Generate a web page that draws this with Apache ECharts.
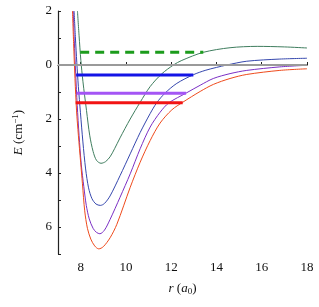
<!DOCTYPE html>
<html>
<head>
<meta charset="utf-8">
<script src="https://cdn.jsdelivr.net/npm/echarts@6/dist/echarts.min.js"></script>
<style>html,body{margin:0;padding:0;background:#fff}#c{width:319px;height:307px}</style>
</head>
<body>
<div id="c"></div>
<script>
// Potential curves: [r (a0), E (cm^-1)]
const curveGreen = [[7.86,2.0],[7.93,1.1],[8.01,0.17],[8.1,-0.6],[8.26,-1.69],[8.4,-2.6],[8.55,-3.2],[8.7,-3.53],[8.9,-3.64],[9.1,-3.58],[9.3,-3.4],[9.5,-3.1],[9.74,-2.7],[10.19,-2.0],[10.63,-1.38],[11.07,-0.8],[11.58,-0.33],[12.1,0.0],[12.47,0.17],[13.42,0.47],[14.6,0.64],[15.8,0.69],[17.0,0.67],[18.0,0.63]];
const curveBlue = [[7.71,2.0],[7.77,1.0],[7.83,0.1],[7.9,-0.8],[7.99,-1.75],[8.1,-2.85],[8.22,-3.85],[8.35,-4.55],[8.5,-4.95],[8.68,-5.15],[8.87,-5.2],[9.05,-5.13],[9.3,-4.85],[9.74,-4.1],[10.19,-3.29],[10.63,-2.5],[11.07,-1.8],[11.36,-1.4],[11.73,-1.04],[12.25,-0.68],[12.98,-0.36],[13.5,-0.2],[14.0,-0.09],[14.46,0.0],[15.34,0.14],[16.8,0.22],[18.0,0.25]];
const curvePurple = [[7.67,2.0],[7.72,0.9],[7.78,-0.3],[7.85,-1.5],[7.93,-2.6],[8.03,-3.7],[8.14,-4.5],[8.25,-5.2],[8.38,-5.7],[8.55,-6.05],[8.7,-6.2],[8.85,-6.25],[9.05,-6.12],[9.3,-5.72],[9.74,-4.9],[10.19,-4.03],[10.63,-3.1],[11.07,-2.3],[11.51,-1.75],[11.9,-1.4],[12.66,-1.04],[13.28,-0.75],[13.86,-0.5],[14.6,-0.32],[15.34,-0.2],[16.8,-0.07],[18.0,-0.01]];
const curveRed = [[7.64,2.0],[7.69,0.8],[7.75,-0.5],[7.82,-1.7],[7.9,-2.6],[8.0,-3.6],[8.08,-4.4],[8.18,-5.4],[8.3,-6.05],[8.45,-6.45],[8.62,-6.7],[8.8,-6.81],[9.0,-6.73],[9.3,-6.4],[9.6,-5.9],[10.19,-4.53],[10.63,-3.6],[11.07,-2.8],[11.51,-2.15],[12.03,-1.66],[12.51,-1.38],[13.28,-0.98],[13.86,-0.72],[14.6,-0.5],[15.34,-0.35],[16.8,-0.2],[18.0,-0.14]];
// Horizontal levels: [rStart, rEnd, E]
const levelZero = [7.0, 18.0, 0.0];
const levelGreen = [7.98, 13.42, 0.47];
const levelBlue = [7.8, 12.98, -0.37];
const levelPurple = [7.83, 12.66, -1.05];
const levelRed = [7.78, 12.51, -1.4];
// Tick labels
const xTicks = [8, 10, 12, 14, 16, 18];
const yTicks = [-6, -4, -2, 0, 2];
const yMinorTicks = [-7, -6, -5, -4, -3, -2, -1, 0, 1, 2];

const serif = 'Liberation Serif';
function seg(l) { return [[l[0], l[2]], [l[1], l[2]]]; }
function curve(data, color) {
  return { type: 'line', data: data, smooth: 0.3, symbol: 'none', silent: true,
    lineStyle: { color: color, width: 1 }, z: 3 };
}
function level(l, color, width, dash) {
  return { type: 'line', data: seg(l), symbol: 'none', silent: true,
    lineStyle: { color: color, width: width, type: dash ? [9, 6] : 'solid', cap: 'butt' }, z: 4 };
}
const chart = echarts.init(document.getElementById('c'), null, { renderer: 'canvas' });
chart.setOption({
  animation: false,
  backgroundColor: '#fff',
  grid: { left: 58, right: 12, top: 11, bottom: 53 },
  xAxis: {
    type: 'value', min: 7, max: 18, interval: 1,
    splitLine: { show: false },
    axisLine: { lineStyle: { color: '#222', width: 1.2 } },
    axisTick: { inside: true, length: 3, customValues: xTicks, lineStyle: { color: '#222' } },
    axisLabel: { customValues: xTicks, color: '#111', fontFamily: serif, fontSize: 13, margin: 7 },
    name: '{i|r} ({i|a}{s|0})', nameLocation: 'middle', nameGap: 28,
    nameTextStyle: { color: '#111', fontFamily: serif, fontSize: 13,
      rich: { i: { fontStyle: 'italic', fontFamily: serif, fontSize: 13, color: '#111' },
              s: { fontFamily: serif, fontSize: 9, color: '#111', padding: [5, 0, 0, 0] } } }
  },
  yAxis: {
    type: 'value', min: -7, max: 2, interval: 1,
    splitLine: { show: false },
    axisLine: { lineStyle: { color: '#222', width: 1.2 } },
    axisTick: { inside: true, length: 3, customValues: yMinorTicks, lineStyle: { color: '#222' } },
    axisLabel: { customValues: yTicks, color: '#111', fontFamily: serif, fontSize: 13, margin: 6,
      formatter: function (v) { return String(Math.abs(v)); } },
    name: '{i|E} (cm{s|−1})', nameLocation: 'middle', nameGap: 32, nameRotate: 90,
    nameTextStyle: { color: '#111', fontFamily: serif, fontSize: 13,
      rich: { i: { fontStyle: 'italic', fontFamily: serif, fontSize: 13, color: '#111' },
              s: { fontFamily: serif, fontSize: 9, color: '#111', padding: [0, 0, 6, 0] } } }
  },
  series: [
    level(levelZero, '#9a9a9a', 2, false),
    curve(curveGreen, '#3f7d5e'),
    curve(curveBlue, '#3547ad'),
    curve(curvePurple, '#7b2fc4'),
    curve(curveRed, '#ee4a1c'),
    level(levelGreen, '#1c9c1c', 3, true),
    level(levelBlue, '#1414e6', 3, false),
    level(levelPurple, '#a455f5', 3, false),
    level(levelRed, '#f21414', 3, false)
  ]
});
</script>
</body>
</html>
